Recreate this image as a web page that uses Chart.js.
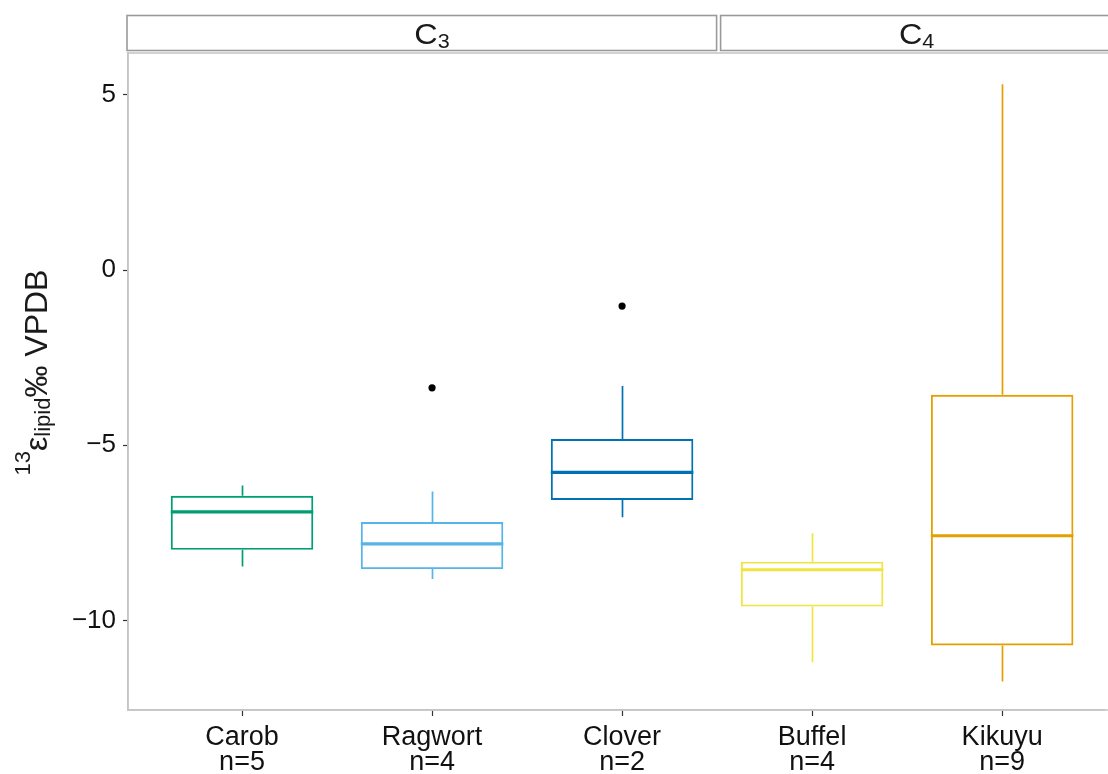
<!DOCTYPE html>
<html><head><meta charset="utf-8">
<script src="https://cdn.jsdelivr.net/npm/chart.js@4.4.1/dist/chart.umd.min.js"></script>
<style>html,body{margin:0;padding:0;background:#fff;overflow:hidden}#wrap{width:1108px;height:774px;position:relative}</style>
</head><body><div id="wrap"><canvas id="c"></canvas></div>
<script>
// ---- data ----
const categories = ['Carob', 'Ragwort', 'Clover', 'Buffel', 'Kikuyu'];
const sampleSizes = ['n=5', 'n=4', 'n=2', 'n=4', 'n=9'];
const whiskerLow  = [-8.46, -8.81, -7.05, -11.19, -11.74];
const lowerQuart  = [-7.98, -8.53, -6.56, -9.60, -10.71];
const medians     = [-6.90, -7.81, -5.77, -8.55, -7.58];
const upperQuart  = [-6.44, -7.19, -4.82, -8.32, -3.56];
const whiskerHigh = [-6.15, -6.32, -3.31, -7.51, 5.30];
const outlierCategories = ['Ragwort', 'Clover'];
const outlierValues = [-3.36, -1.03];
const colors = ['#009E73', '#56B4E9', '#0072B2', '#F0E442', '#E69F00'];
const yTicks = [-10, -5, 0, 5];
const groupNames = ['C', 'C'];
const groupSubs = ['3', '4'];
const groupMembers = [['Carob', 'Ragwort', 'Clover'], ['Buffel', 'Kikuyu']];

const FONT = "'Liberation Sans', Arial, Helvetica, sans-serif";

const boxPlugin = {
  id: 'boxExtras',
  afterDatasetsDraw(chart) {
    const ctx = chart.ctx, xs = chart.scales.x, ys = chart.scales.y;
    const meta = chart.getDatasetMeta(0);
    ctx.save();
    categories.forEach((c, i) => {
      const bar = meta.data[i];
      const cx = Math.round(xs.getPixelForValue(i + 1)) + 0.5;
      ctx.strokeStyle = colors[i];
      ctx.lineWidth = 1.7;
      ctx.beginPath();
      ctx.moveTo(cx, ys.getPixelForValue(upperQuart[i]));
      ctx.lineTo(cx, ys.getPixelForValue(whiskerHigh[i]));
      ctx.moveTo(cx, ys.getPixelForValue(lowerQuart[i]));
      ctx.lineTo(cx, ys.getPixelForValue(whiskerLow[i]));
      ctx.stroke();
      ctx.lineWidth = 3.2;
      const my = ys.getPixelForValue(medians[i]);
      ctx.beginPath();
      ctx.moveTo(bar.x - bar.width / 2, my);
      ctx.lineTo(bar.x + bar.width / 2, my);
      ctx.stroke();
    });
    ctx.restore();
  },
  afterDraw(chart) {
    const ctx = chart.ctx, xs = chart.scales.x, ca = chart.chartArea;
    ctx.save();
    // panel border
    ctx.strokeStyle = '#c4c4c4';
    ctx.lineWidth = 1.5;
    ctx.strokeRect(ca.left, ca.top, ca.right - ca.left + 20, ca.bottom - ca.top);
    // strips
    const idx = n => categories.indexOf(n) + 1;
    ctx.strokeStyle = '#9a9a9a';
    ctx.lineWidth = 1.6;
    const stripTop = 15.5, stripBot = 50.5;
    groupMembers.forEach((mem, g) => {
      const first = idx(mem[0]), last = idx(mem[mem.length - 1]);
      const l = g === 0 ? ca.left - 1 : xs.getPixelForValue(first - 0.5) + 3.5;
      const r = g === groupMembers.length - 1 ? ca.right + 20 : xs.getPixelForValue(last + 0.5) - 0.5;
      ctx.strokeRect(l, stripTop, r - l, stripBot - stripTop);
      // label
      const center = g === 0 ? xs.getPixelForValue((first + last) / 2) : xs.getPixelForValue((first + last) / 2 + 0.05);
      ctx.save();
      ctx.fillStyle = '#1a1a1a';
      ctx.textBaseline = 'alphabetic';
      ctx.font = '30px ' + FONT;
      const wC = ctx.measureText(groupNames[g]).width;
      ctx.font = '20px ' + FONT;
      const wS = ctx.measureText(groupSubs[g]).width;
      ctx.translate(center, 0);
      ctx.scale(1.08, 1);
      const start = -(wC + wS) / 2;
      ctx.font = '30px ' + FONT;
      ctx.fillText(groupNames[g], start, 44);
      ctx.font = '20px ' + FONT;
      ctx.fillText(groupSubs[g], start + wC, 47.5);
      ctx.restore();
    });
    // y axis title
    ctx.fillStyle = '#1a1a1a';
    const parts = [
      { t: '13', f: 22, dy: -17 },
      { t: '\u03b5', f: 32, dy: 0 },
      { t: 'lipid', f: 22, dy: 3 },
      { t: '\u2030 VPDB', f: 32, dy: 0 }
    ];
    let total = 0;
    parts.forEach(p => { ctx.font = p.f + 'px ' + FONT; p.w = ctx.measureText(p.t).width; total += p.w; });
    const centerY = (ca.top + ca.bottom) / 2 - 9;
    ctx.translate(47, centerY + total / 2);
    ctx.rotate(-Math.PI / 2);
    let x = 0;
    parts.forEach(p => {
      ctx.font = p.f + 'px ' + FONT;
      ctx.fillText(p.t, x, p.dy);
      x += p.w;
    });
    ctx.restore();
  }
};

new Chart(document.getElementById('c'), {
  type: 'bar',
  data: {
    datasets: [
      {
        type: 'bar',
        data: categories.map((c, i) => ({ x: i + 1, y: [lowerQuart[i], upperQuart[i]] })),
        backgroundColor: 'rgba(255,255,255,0)',
        borderColor: colors,
        borderWidth: 1.9,
        borderSkipped: false,
        barPercentage: 0.75,
        categoryPercentage: 1,
        grouped: false
      },
      {
        type: 'scatter',
        data: outlierCategories.map((c, i) => ({ x: categories.indexOf(c) + 1, y: outlierValues[i] })),
        backgroundColor: '#000',
        borderWidth: 0,
        pointRadius: 3.6
      }
    ]
  },
  options: {
    responsive: true,
    maintainAspectRatio: false,
    animation: false,
    devicePixelRatio: 1,
    layout: { padding: { top: 53, left: 0, right: 0, bottom: 0 } },
    plugins: { legend: { display: false }, tooltip: { enabled: false } },
    scales: {
      x: {
        type: 'linear',
        min: 0.4,
        max: 5.536,
        offset: false,
        grid: { offset: false, drawOnChartArea: false, tickLength: 6, tickColor: '#333', tickWidth: 1.2 },
        border: { display: true, color: '#c4c4c4', width: 1.5 },
        afterBuildTicks: s => { s.ticks = categories.map((c, i) => ({ value: i + 1 })); },
        afterFit: s => { s.height = 64; },
        ticks: {
          padding: 9,
          autoSkip: false,
          maxRotation: 0,
          color: '#111',
          font: { family: FONT, size: 27, lineHeight: 0.93 },
          callback: v => [categories[v - 1], sampleSizes[v - 1]]
        }
      },
      y: {
        type: 'linear',
        min: -12.55,
        max: 6.19,
        grid: { drawOnChartArea: false, tickLength: 5, tickColor: '#333', tickWidth: 1.2 },
        border: { display: true, color: '#c4c4c4', width: 1.5 },
        afterBuildTicks: s => { s.ticks = yTicks.map(v => ({ value: v })); },
        afterFit: s => { s.width = 128; },
        ticks: {
          padding: 7,
          color: '#111',
          font: { family: FONT, size: 26 },
          callback: v => (v < 0 ? '\u2212' + Math.abs(v) : String(v))
        }
      }
    }
  },
  plugins: [boxPlugin]
});
</script>
</body></html>
